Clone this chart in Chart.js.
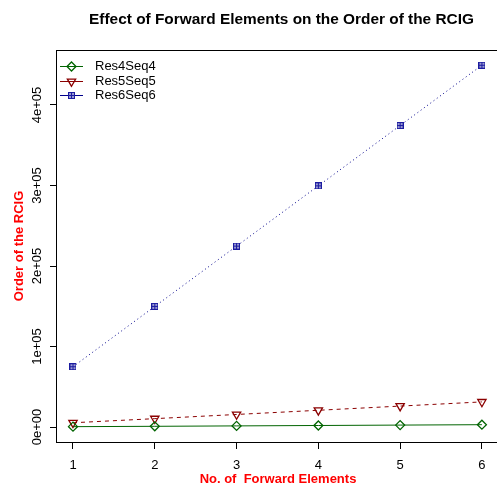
<!DOCTYPE html>
<html>
<head>
<meta charset="utf-8">
<script src="https://cdn.jsdelivr.net/npm/chart.js@4/dist/chart.umd.min.js"></script>
<style>html,body{margin:0;padding:0;background:#fff}</style>
</head>
<body>
<canvas id="graficaRCIG" width="497" height="485"></canvas>
<script>
// datos
const elementos = [1, 2, 3, 4, 5, 6];
const res4Seq4 = [450, 900, 1400, 1900, 2400, 2900];
const res5Seq5 = [5300, 10400, 15600, 20800, 26000, 31200];
const res6Seq6 = [74900, 149800, 224700, 299600, 374500, 449400];
const xTicks = [1, 2, 3, 4, 5, 6];
const yTicks = [0, 100000, 200000, 300000, 400000];
const yTickLabels = ['0e+00', '1e+05', '2e+05', '3e+05', '4e+05'];
const titulo = 'Effect of Forward Elements on the Order of the RCIG';
const tituloX = 'No. of  Forward Elements';

const FUENTE = '"Liberation Sans", Arial, sans-serif';
Chart.defaults.font.family = FUENTE;
Chart.defaults.font.size = 13;
Chart.defaults.color = '#000';

// simbolo pch 12 (cuadro con cruz), pequeño
function cuadroCruz(color) {
    const c = document.createElement('canvas');
    c.width = 7; c.height = 7;
    const g = c.getContext('2d');
    g.fillStyle = color;
    g.fillRect(0, 0, 7, 7);
    g.fillStyle = '#9a9ad2';
    [[1, 1], [4, 1], [1, 4], [4, 4]].forEach(p => g.fillRect(p[0], p[1], 2, 2));
    return c;
}

function serie(nombre, valores, color, estilo, dash, rot, radio) {
    return {
        label: nombre,
        data: elementos.map((x, i) => ({x: x, y: valores[i]})),
        borderColor: color,
        backgroundColor: 'transparent',
        borderWidth: 1,
        borderDash: dash,
        pointStyle: estilo,
        pointRotation: rot,
        pointRadius: radio,
        pointBorderColor: color,
        pointBackgroundColor: 'transparent',
        pointBorderWidth: 1.3,
        tension: 0,
        fill: false
    };
}

// titulos, caja, etiquetas del eje y giradas y leyenda al estilo R
const ejesR = {
    id: 'ejesR',
    afterDraw(chart) {
        const ctx = chart.ctx;
        const a = chart.chartArea;
        ctx.save();
        ctx.textAlign = 'center';
        ctx.textBaseline = 'middle';
        ctx.fillStyle = '#000';
        ctx.font = 'bold 15.4px ' + FUENTE;
        ctx.fillText(titulo, 281.5, 20);
        ctx.fillStyle = '#ff0000';
        ctx.font = 'bold 13px ' + FUENTE;
        ctx.fillText(tituloX, 278, 479);

        ctx.strokeStyle = '#000';
        ctx.lineWidth = 1;
        ctx.strokeRect(Math.round(a.left) - 0.5, Math.round(a.top) + 0.5,
            chart.width + 10, Math.round(a.bottom - a.top));

        ctx.fillStyle = '#000';
        ctx.font = '13px ' + FUENTE;
        yTicks.forEach((v, i) => {
            const y = chart.scales.y.getPixelForValue(v);
            ctx.save();
            ctx.translate(37, y);
            ctx.rotate(-Math.PI / 2);
            ctx.fillText(yTickLabels[i], 0, 0);
            ctx.restore();
        });

        // leyenda
        chart.data.datasets.forEach((ds, i) => {
            const y = Math.round(66 + i * 14.5) + 0.5;
            ctx.strokeStyle = ds.borderColor;
            ctx.fillStyle = 'rgba(0,0,0,0)';
            ctx.lineWidth = 1;
            ctx.setLineDash([]);
            ctx.beginPath();
            ctx.moveTo(60, y);
            ctx.lineTo(83, y);
            ctx.stroke();
            ctx.lineWidth = 1.3;
            Chart.helpers.drawPoint(ctx, {
                pointStyle: ds.pointStyle,
                rotation: ds.pointRotation,
                radius: ds.pointRadius,
                borderWidth: 1.3
            }, 71.5, y);
            ctx.fillStyle = '#000';
            ctx.textAlign = 'left';
            ctx.fillText(ds.label, 95, y);
        });
        ctx.restore();
    }
};

new Chart(document.getElementById('graficaRCIG'), {
    type: 'line',
    data: {
        datasets: [
            serie('Res4Seq4', res4Seq4, '#006400', 'rectRot', [], 0, 4.5),
            serie('Res5Seq5', res5Seq5, '#8B0000', 'triangle', [4, 4], 180, 4.8),
            serie('Res6Seq6', res6Seq6, '#00008B', cuadroCruz('#1c1ca0'), [1, 3], 0, 4)
        ]
    },
    options: {
        responsive: false,
        animation: false,
        devicePixelRatio: 1,
        layout: { padding: { top: 50, right: 0, left: 0, bottom: 0 } },
        plugins: {
            legend: { display: false },
            tooltip: { enabled: false },
            title: { display: false }
        },
        scales: {
            x: {
                type: 'linear',
                min: 0.8044,
                max: 6.11,
                afterBuildTicks: s => { s.ticks = xTicks.map(v => ({value: v})); },
                afterFit: s => { s.height = 43; },
                border: { display: false },
                grid: { drawOnChartArea: false, drawTicks: true, tickLength: 7, color: '#000' },
                ticks: { padding: 9, color: '#000', maxRotation: 0, callback: v => String(v) }
            },
            y: {
                type: 'linear',
                min: -18600,
                max: 468300,
                afterBuildTicks: s => { s.ticks = yTicks.map(v => ({value: v})); },
                afterFit: s => { s.width = 57; },
                border: { display: false },
                grid: { drawOnChartArea: false, drawTicks: true, tickLength: 7, color: '#000' },
                ticks: { display: false },
                title: {
                    display: true,
                    text: 'Order of the RCIG',
                    color: '#ff0000',
                    font: { size: 13, weight: 'bold' },
                    padding: { top: 11.5, bottom: 0 }
                }
            }
        }
    },
    plugins: [ejesR]
});
</script>
</body>
</html>
